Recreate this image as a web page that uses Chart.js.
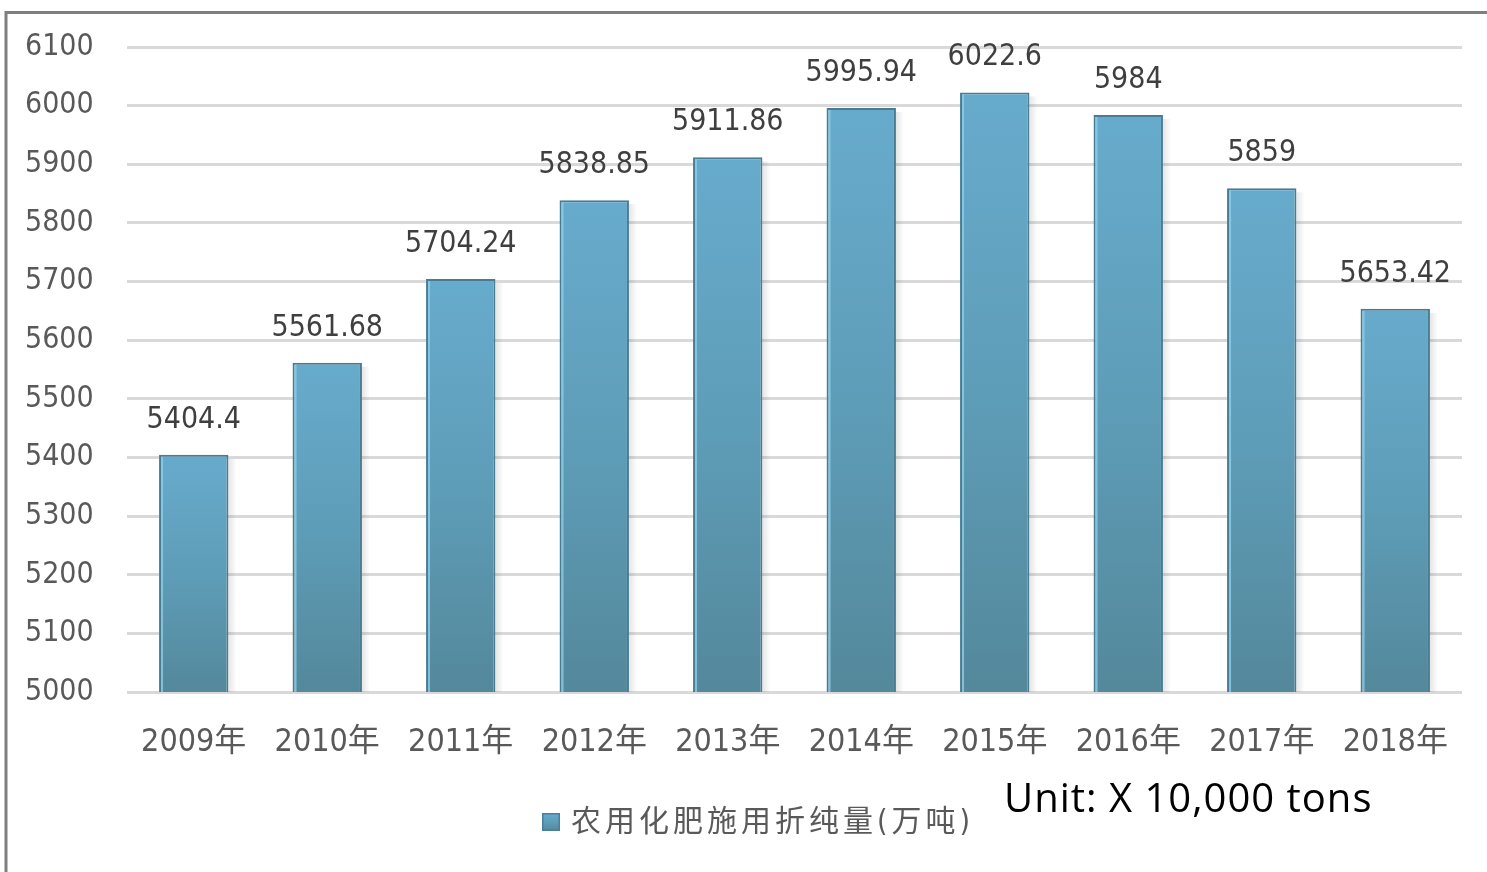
<!DOCTYPE html>
<html>
<head>
<meta charset="utf-8">
<script src="https://cdn.jsdelivr.net/npm/chart.js@4/dist/chart.umd.min.js"></script>
<style>
  html, body { margin: 0; padding: 0; background: #ffffff; }
  #wrap { position: relative; width: 1487px; height: 872px; }
  canvas { display: block; }
</style>
</head>
<body>
<div id="wrap"><canvas id="c" width="1487" height="872"></canvas></div>
<script>
const categories = ["2009年", "2010年", "2011年", "2012年", "2013年", "2014年", "2015年", "2016年", "2017年", "2018年"];
const values = [5404.4, 5561.68, 5704.24, 5838.85, 5911.86, 5995.94, 6022.6, 5984, 5859, 5653.42];
const seriesName = "农用化肥施用折纯量(万吨)";
const unitText = "Unit: X 10,000 tons";
const yMin = 5000, yMax = 6100, yStep = 100;

const NUM_FONT = '"DejaVu Sans Condensed", "Liberation Sans Narrow", "Noto Sans CJK SC", sans-serif';

function barGradient(ctx, top, bottom) {
  const g = ctx.createLinearGradient(0, top, 0, bottom);
  g.addColorStop(0, '#67abcc');
  g.addColorStop(0.5, '#5e9db8');
  g.addColorStop(1, '#54889b');
  return g;
}

const framePlugin = {
  id: 'frame',
  beforeDraw(chart) {
    const c = chart.ctx;
    c.save();
    c.fillStyle = '#ffffff';
    c.fillRect(0, 0, chart.width, chart.height);
    c.strokeStyle = '#7f7f7f';
    c.lineWidth = 3;
    c.beginPath();
    c.moveTo(6, chart.height);
    c.lineTo(6, 12.5);
    c.lineTo(chart.width, 12.5);
    c.stroke();
    c.restore();
  },
  beforeDatasetsDraw(chart) {
    const c = chart.ctx;
    const meta = chart.getDatasetMeta(0);
    const bottom = chart.chartArea.bottom;
    c.save();
    meta.data.forEach((el) => {
      const left = el.x + el.width / 2;
      const g = c.createLinearGradient(left, 0, left + 8, 0);
      g.addColorStop(0, 'rgba(0,0,0,0.10)');
      g.addColorStop(1, 'rgba(0,0,0,0)');
      c.fillStyle = g;
      c.fillRect(left, el.y + 4, 8, bottom - el.y - 4);
    });
    c.restore();
  }
};

const labelPlugin = {
  id: 'valueLabels',
  afterDatasetsDraw(chart) {
    const c = chart.ctx;
    const meta = chart.getDatasetMeta(0);
    const bottom = chart.chartArea.bottom;
    c.save();
    meta.data.forEach((el) => {
      c.fillStyle = 'rgba(140,205,235,0.8)';
      c.fillRect(el.x - el.width / 2 + 2, el.y + 2, 2, bottom - el.y - 2);
    });
    c.font = '30px ' + NUM_FONT;
    c.fillStyle = '#3f3f3f';
    c.textAlign = 'center';
    c.textBaseline = 'alphabetic';
    meta.data.forEach((el, i) => {
      c.fillText(String(values[i]), el.x, el.y - 27);
    });
    c.restore();
  }
};

const legendPlugin = {
  id: 'customLegend',
  afterDraw(chart) {
    const c = chart.ctx;
    c.save();
    const mx = 542, my = 813, ms = 18;
    c.fillStyle = barGradient(c, my, my + ms);
    c.fillRect(mx, my, ms, ms);
    c.strokeStyle = '#4b7f96';
    c.lineWidth = 1.5;
    c.strokeRect(mx + 0.75, my + 0.75, ms - 1.5, ms - 1.5);
    c.font = '30px ' + NUM_FONT;
    c.fillStyle = '#595959';
    c.textAlign = 'left';
    c.textBaseline = 'middle';
    try { c.letterSpacing = '4px'; } catch (e) {}
    c.fillText(seriesName, 571, 823);
    try { c.letterSpacing = '1px'; } catch (e) {}
    c.font = '40px "Open Sans", Lato, sans-serif';
    c.fillStyle = '#000000';
    c.textBaseline = 'alphabetic';
    c.fillText(unitText, 1004, 812);
    try { c.letterSpacing = '0px'; } catch (e) {}
    c.restore();
  }
};

new Chart(document.getElementById('c'), {
  type: 'bar',
  data: {
    labels: categories,
    datasets: [{
      label: seriesName,
      data: values,
      backgroundColor(context) {
        const chart = context.chart;
        const area = chart.chartArea;
        if (!area || !chart.scales.y) return '#5e9db8';
        const top = chart.scales.y.getPixelForValue(context.raw);
        return barGradient(chart.ctx, top, area.bottom);
      },
      borderColor: '#497b91',
      borderWidth: 2,
      borderSkipped: 'bottom',
      categoryPercentage: 1.0,
      barPercentage: 0.52
    }]
  },
  options: {
    responsive: false,
    animation: false,
    events: [],
    layout: { padding: { left: 25, right: 25, top: 47, bottom: 0 } },
    plugins: {
      legend: { display: false },
      tooltip: { enabled: false },
      title: { display: false }
    },
    scales: {
      x: {
        offset: true,
        grid: { display: false, drawTicks: false },
        border: { display: false },
        ticks: {
          color: '#595959',
          font: { family: NUM_FONT, size: 32 },
          padding: 31,
          maxRotation: 0,
          autoSkip: false
        },
        afterFit(scale) { scale.height = 180; }
      },
      y: {
        min: yMin,
        max: yMax,
        grid: { color: '#d9d9d9', lineWidth: 3, drawTicks: false },
        border: { display: false },
        ticks: {
          stepSize: yStep,
          color: '#595959',
          font: { family: NUM_FONT, size: 30 },
          padding: 0,
          crossAlign: 'far',
          callback(v) { return String(v); }
        },
        afterFit(scale) { scale.width = 102; }
      }
    }
  },
  plugins: [framePlugin, labelPlugin, legendPlugin]
});
</script>
</body>
</html>
